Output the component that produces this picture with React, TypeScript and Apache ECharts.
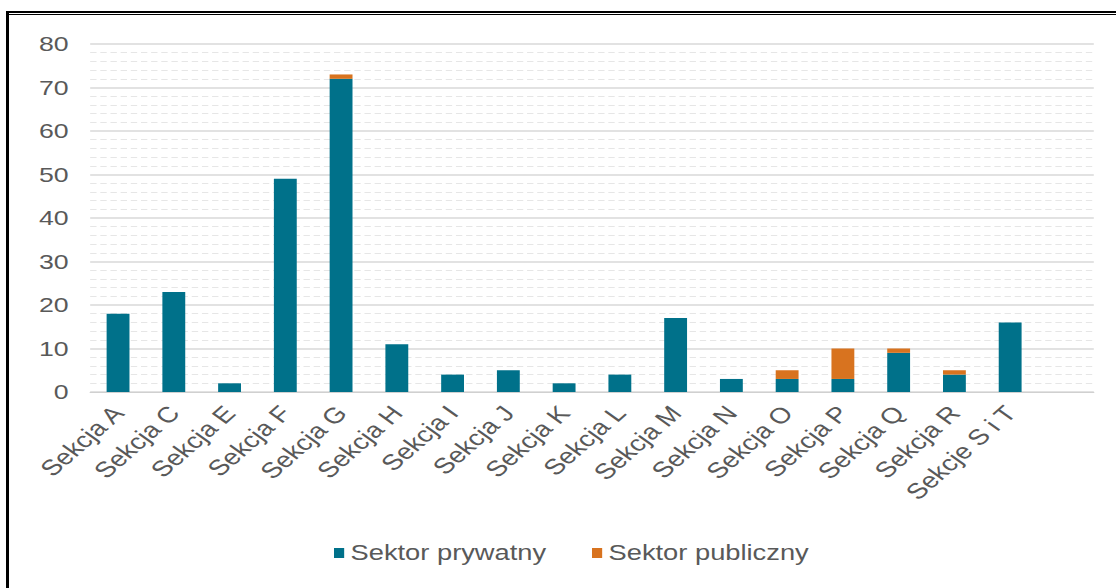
import React, { useEffect, useRef } from "react";
import * as echarts from "echarts";

const categories = [
  "Sekcja A", "Sekcja C", "Sekcja E", "Sekcja F", "Sekcja G", "Sekcja H",
  "Sekcja I", "Sekcja J", "Sekcja K", "Sekcja L", "Sekcja M", "Sekcja N",
  "Sekcja O", "Sekcja P", "Sekcja Q", "Sekcja R", "Sekcje S i T", "",
];
const privateSector = [18, 23, 2, 49, 72, 11, 4, 5, 2, 4, 17, 3, 3, 3, 9, 4, 16, null];
const publicSector = [0, 0, 0, 0, 1, 0, 0, 0, 0, 0, 0, 0, 2, 7, 1, 1, 0, null];
const seriesNames = ["Sektor prywatny", "Sektor publiczny"];
const yMin = 0;
const yMax = 80;
const yInterval = 10;

const SCALE_X = 1.27;
const W = 1116 / SCALE_X;
const H = 588;
const TEXT = "#595959";
const FONT = "'Liberation Sans', Arial, sans-serif";

export default function App() {
  const ref = useRef<HTMLDivElement>(null);
  useEffect(() => {
    if (!ref.current) return;
    const chart = echarts.init(ref.current, undefined, { renderer: "svg" });
    chart.setOption({
      animation: false,
      textStyle: { fontFamily: FONT },
      grid: { left: 71, right: W - 861, top: 44, bottom: H - 392, containLabel: false },
      legend: {
        data: seriesNames,
        left: 258,
        top: 537,
        icon: "rect",
        itemWidth: 8,
        itemHeight: 10,
        itemGap: 36,
        textStyle: { color: TEXT, fontSize: 21.5, fontFamily: FONT },
      },
      xAxis: {
        type: "category",
        data: categories,
        axisLine: { lineStyle: { color: "#d0d0d0", width: 1 } },
        axisTick: { show: false },
        axisLabel: {
          rotate: 48,
          interval: 0,
          color: TEXT,
          fontSize: 22,
          margin: 17,
          fontFamily: FONT,
        },
      },
      yAxis: {
        type: "value",
        min: yMin,
        max: yMax,
        interval: yInterval,
        axisLine: { show: false },
        axisTick: { show: false },
        axisLabel: { color: TEXT, fontSize: 21, margin: 17, fontFamily: FONT },
        splitLine: { lineStyle: { color: "#d9d9d9", width: 1.5 } },
        minorTick: { show: false, splitNumber: 5 },
        minorSplitLine: { show: true, lineStyle: { color: "#e6e6e6", width: 1, type: [5, 3] } },
      },
      series: [
        {
          name: seriesNames[0],
          type: "bar",
          stack: "total",
          data: privateSector,
          barWidth: 18,
          itemStyle: { color: "#00718A" },
        },
        {
          name: seriesNames[1],
          type: "bar",
          stack: "total",
          data: publicSector,
          barWidth: 18,
          itemStyle: { color: "#D8731F" },
        },
      ],
    });
    return () => chart.dispose();
  }, []);

  return (
    <div style={{ position: "absolute", left: 0, top: 0, width: 1116, height: 588, overflow: "hidden", background: "#fff" }}>
      <div
        ref={ref}
        style={{ position: "absolute", left: 0, top: 0, width: W, height: H, transform: `scaleX(${SCALE_X})`, transformOrigin: "0 0" }}
      />
      <div style={{ position: "absolute", left: 6, top: 11, right: 0, height: 2, background: "#000" }} />
      <div style={{ position: "absolute", left: 9, top: 14, right: 0, height: 1, background: "#000" }} />
      <div style={{ position: "absolute", left: 6, top: 11, width: 3, bottom: 0, background: "#000" }} />
    </div>
  );
}
